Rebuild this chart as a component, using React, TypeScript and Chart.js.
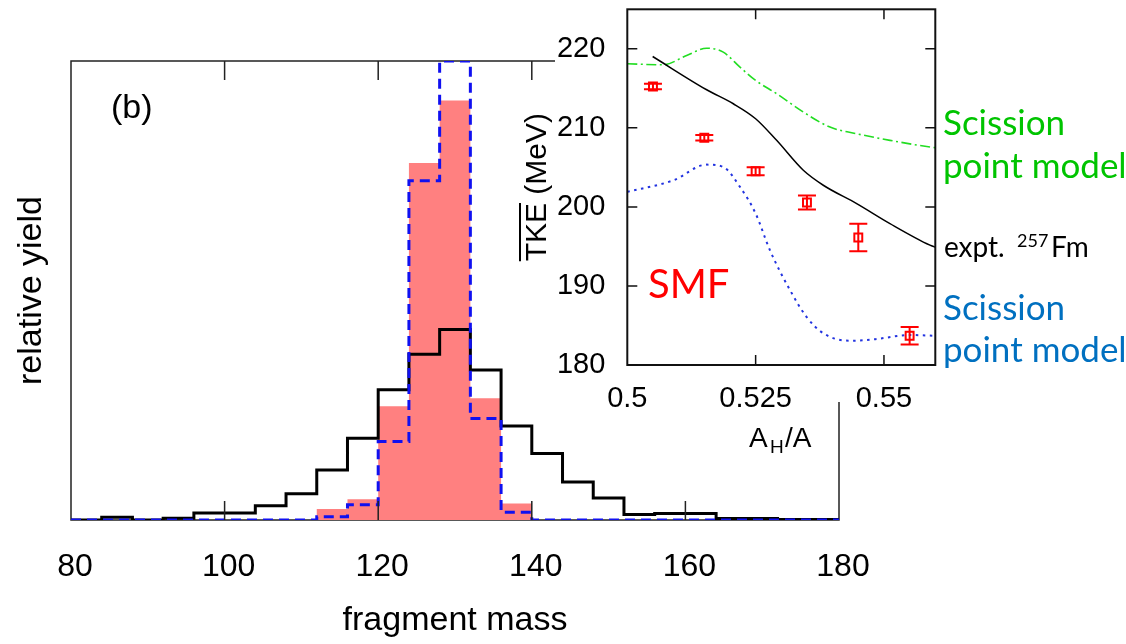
import React, { useEffect, useRef } from "react";
import { Chart, registerables } from "chart.js";

Chart.register(...registerables);

// ---------- Main histogram data (bin left edges, width 4) ----------
const massBinEdges = [80, 84, 88, 92, 96, 100, 104, 108, 112, 116, 120, 124, 128, 132, 136, 140, 144, 148, 152, 156, 160, 164, 168, 172, 176];
const massUpperEdge = 180;
const exptYield = [0, 0.06, 0, 0.04, 0.15, 0.15, 0.31, 0.57, 1.09, 1.78, 2.84, 3.61, 4.15, 3.27, 2.05, 1.45, 0.83, 0.48, 0.12, 0.14, 0.14, 0.03, 0.03, 0.01, 0.01];
const smfYield = [0, 0, 0, 0, 0, 0, 0, 0, 0.24, 0.45, 2.48, 7.78, 9.14, 2.65, 0.36, 0, 0, 0, 0, 0, 0, 0, 0, 0, 0];
const scissionYield = [0, 0, 0, 0, 0, 0, 0, 0, 0.07, 0.33, 1.71, 7.39, 10.0, 2.21, 0.17, 0, 0, 0, 0, 0, 0, 0, 0, 0, 0];
const massTicks = [100, 120, 140, 160];

// ---------- Inset data ----------
const exptTkeX = [0.50494, 0.51546, 0.52065, 0.525, 0.52909, 0.53429, 0.53818, 0.54468, 0.55117, 0.55896, 0.56];
const exptTkeY = [219.03, 214.82, 213.05, 211.16, 208.42, 204.63, 202.74, 200.42, 197.89, 195.16, 194.9];
const spmGreenX = [0.5, 0.50701, 0.51156, 0.51546, 0.5187, 0.52195, 0.525, 0.52909, 0.53429, 0.53948, 0.54468, 0.55117, 0.55896, 0.56];
const spmGreenY = [218.11, 217.98, 219.16, 220.08, 219.58, 217.68, 216.0, 214.32, 212.0, 210.1, 209.26, 208.42, 207.58, 207.5];
const spmBlueX = [0.5, 0.509, 0.51546, 0.5187, 0.52195, 0.525, 0.5278, 0.5317, 0.5349, 0.5382, 0.5434, 0.5479, 0.5551, 0.56];
const spmBlueY = [201.9, 203.37, 205.35, 205.05, 202.53, 199.16, 194.5, 189.47, 186.1, 184.0, 183.07, 183.24, 183.79, 183.7];
const smfX = [0.505, 0.515, 0.525, 0.535, 0.545, 0.555];
const smfTke = [215.24, 208.76, 204.51, 200.55, 196.13, 183.7];
const smfErr = [0.35, 0.35, 0.5, 0.88, 1.73, 1.12];
const insetYTicks = [180, 190, 200, 210, 220];
const insetXTicks = [0.525, 0.55];

const SANS = "'Liberation Sans', Arial, sans-serif";
const LABEL = "Lato, 'Open Sans', sans-serif";

const INSET_LEFT = 500;

function stepData(edges: number[], vals: number[], upper: number) {
  const pts = edges.map((m, i) => ({ x: m, y: vals[i] }));
  pts.push({ x: upper, y: vals[vals.length - 1] });
  return pts;
}

function xy(xs: number[], ys: number[]) {
  return xs.map((x, i) => ({ x, y: ys[i] }));
}

const mainFramePlugin = {
  id: "mainFrame",
  beforeDatasetsDraw(chart: any) {
    const { ctx, chartArea: a } = chart;
    ctx.save();
    ctx.strokeStyle = "#222";
    ctx.lineWidth = 1.5;
    ctx.strokeRect(a.left, a.top, a.right - a.left, a.bottom - a.top);
    ctx.restore();
  },
  afterDatasetsDraw(chart: any) {
    const { ctx, chartArea: a, scales } = chart;
    ctx.save();
    ctx.strokeStyle = "#222";
    ctx.lineWidth = 1.5;
    for (const m of massTicks) {
      const px = scales.x.getPixelForValue(m);
      ctx.beginPath();
      ctx.moveTo(px, a.top);
      ctx.lineTo(px, a.top + 19);
      ctx.moveTo(px, a.bottom);
      ctx.lineTo(px, a.bottom - 19);
      ctx.stroke();
    }
    ctx.fillStyle = "#000";
    ctx.font = `34px ${SANS}`;
    ctx.textBaseline = "alphabetic";
    ctx.textAlign = "left";
    ctx.fillText("(b)", 111, 118);
    ctx.restore();
  },
};

const insetPlugin = {
  id: "insetDecor",
  beforeDraw(chart: any) {
    const { ctx, width } = chart;
    ctx.save();
    ctx.fillStyle = "#fff";
    ctx.fillRect(555 - INSET_LEFT, 0, width, 402);
    ctx.restore();
  },
  afterDatasetsDraw(chart: any) {
    const { ctx, chartArea: a, scales } = chart;
    const xs = scales.x;
    const ys = scales.y;
    ctx.save();
    // error bars
    ctx.strokeStyle = "#ff0000";
    ctx.lineWidth = 2;
    smfX.forEach((xv, i) => {
      const px = xs.getPixelForValue(xv);
      const t = ys.getPixelForValue(smfTke[i] + smfErr[i]);
      const b = ys.getPixelForValue(smfTke[i] - smfErr[i]);
      ctx.beginPath();
      ctx.moveTo(px, t);
      ctx.lineTo(px, b);
      ctx.moveTo(px - 9, t);
      ctx.lineTo(px + 9, t);
      ctx.moveTo(px - 9, b);
      ctx.lineTo(px + 9, b);
      ctx.stroke();
    });
    // frame
    ctx.strokeStyle = "#111";
    ctx.lineWidth = 2;
    ctx.strokeRect(a.left, a.top, a.right - a.left, a.bottom - a.top);
    ctx.lineWidth = 1.5;
    ctx.beginPath();
    for (const v of insetYTicks) {
      const py = ys.getPixelForValue(v);
      ctx.moveTo(a.left, py);
      ctx.lineTo(a.left + 10, py);
      ctx.moveTo(a.right, py);
      ctx.lineTo(a.right - 10, py);
    }
    for (const v of insetXTicks) {
      const px = xs.getPixelForValue(v);
      ctx.moveTo(px, a.top);
      ctx.lineTo(px, a.top + 10);
      ctx.moveTo(px, a.bottom);
      ctx.lineTo(px, a.bottom - 10);
    }
    ctx.stroke();
    ctx.restore();
  },
  afterDraw(chart: any) {
    const { ctx, chartArea: a } = chart;
    ctx.save();
    ctx.textBaseline = "alphabetic";
    ctx.textAlign = "left";
    // TKE overline
    ctx.font = `30px ${SANS}`;
    const W = ctx.measureText("TKE (MeV)").width;
    const w1 = ctx.measureText("TKE").width;
    const cy = (a.top + a.bottom) / 2;
    const yb = cy + W / 2;
    ctx.strokeStyle = "#000";
    ctx.lineWidth = 2;
    ctx.beginPath();
    ctx.moveTo(20, yb);
    ctx.lineTo(20, yb - w1);
    ctx.stroke();
    // A_H/A
    ctx.fillStyle = "#000";
    ctx.font = `28px ${SANS}`;
    ctx.fillText("A", 749 - INSET_LEFT, 447);
    ctx.font = `19px ${SANS}`;
    ctx.fillText("H", 770 - INSET_LEFT, 453);
    ctx.font = `28px ${SANS}`;
    ctx.fillText("/A", 785 - INSET_LEFT, 447);
    // SMF
    ctx.fillStyle = "#ff0000";
    ctx.font = `40px ${LABEL}`;
    ctx.fillText("SMF", 648 - INSET_LEFT, 298);
    // right labels
    const lx = 943 - INSET_LEFT;
    ctx.fillStyle = "#00c400";
    ctx.font = `35px ${LABEL}`;
    ctx.fillText("Scission", lx, 135);
    ctx.fillText("point model", lx, 178);
    ctx.fillStyle = "#000";
    ctx.font = `28px ${LABEL}`;
    ctx.fillText("expt.", lx + 1, 257);
    ctx.font = `18px ${LABEL}`;
    ctx.fillText("257", 1017 - INSET_LEFT, 247);
    ctx.font = `28px ${LABEL}`;
    ctx.fillText("Fm", 1051 - INSET_LEFT, 257);
    ctx.fillStyle = "#0070c0";
    ctx.font = `35px ${LABEL}`;
    ctx.fillText("Scission", lx, 320);
    ctx.fillText("point model", lx, 362);
    ctx.restore();
  },
};

export default function App() {
  const mainRef = useRef<HTMLCanvasElement>(null);
  const insetRef = useRef<HTMLCanvasElement>(null);

  useEffect(() => {
    const main = new Chart(mainRef.current as HTMLCanvasElement, {
      type: "line",
      data: {
        datasets: [
          {
            label: "SMF",
            data: stepData(massBinEdges, smfYield, massUpperEdge),
            stepped: "before",
            borderWidth: 0,
            borderColor: "rgba(0,0,0,0)",
            backgroundColor: "#ff8080",
            fill: "origin",
            pointRadius: 0,
            order: 2,
          },
          {
            label: "expt",
            data: stepData(massBinEdges, exptYield, massUpperEdge),
            stepped: "before",
            borderColor: "#000",
            borderWidth: 3,
            fill: false,
            pointRadius: 0,
            order: 1,
          },
          {
            label: "scission",
            data: stepData(massBinEdges, scissionYield, massUpperEdge),
            stepped: "before",
            borderColor: "#1010f0",
            borderWidth: 3,
            borderDash: [10, 6],
            fill: false,
            pointRadius: 0,
            order: 0,
          },
        ],
      } as any,
      options: {
        animation: false,
        responsive: false,
        maintainAspectRatio: false,
        layout: { padding: { left: 0, top: 61, right: 1126 - 839, bottom: 0 } },
        plugins: { legend: { display: false }, tooltip: { enabled: false } },
        scales: {
          x: {
            type: "linear",
            min: 80,
            max: 180,
            ticks: { stepSize: 20, color: "#000", font: { family: SANS, size: 32 }, padding: 28, maxRotation: 0, labelOffset: 4 },
            grid: { display: false, drawTicks: false },
            border: { display: false },
            title: { display: true, text: "fragment mass", color: "#000", font: { family: SANS, size: 34 }, padding: { top: 0, bottom: 3 } },
            afterFit: (s: any) => {
              s.height = 124;
              s.paddingLeft = 0;
              s.paddingRight = 0;
            },
          },
          y: {
            type: "linear",
            min: 0,
            max: 10,
            ticks: { display: false },
            grid: { display: false, drawTicks: false },
            border: { display: false },
            title: { display: true, text: "relative yield", color: "#000", font: { family: SANS, size: 34 }, padding: { top: 11, bottom: 0 } },
            afterFit: (s: any) => {
              s.width = 71;
              s.paddingTop = 0;
              s.paddingBottom = 0;
            },
          },
        },
      } as any,
      plugins: [mainFramePlugin],
    });

    const inset = new Chart(insetRef.current as HTMLCanvasElement, {
      type: "line",
      data: {
        datasets: [
          {
            label: "SMF",
            data: xy(smfX, smfTke),
            showLine: false,
            pointStyle: "rect",
            pointRadius: 5.6,
            borderColor: "#ff0000",
            borderWidth: 2,
            backgroundColor: "rgba(0,0,0,0)",
            order: 0,
          },
          {
            label: "expt",
            data: xy(exptTkeX, exptTkeY),
            borderColor: "#000",
            borderWidth: 1.5,
            pointRadius: 0,
            cubicInterpolationMode: "monotone",
            fill: false,
            order: 1,
          },
          {
            label: "spm green",
            data: xy(spmGreenX, spmGreenY),
            borderColor: "#22dd22",
            borderWidth: 1.6,
            borderDash: [10, 3.5, 2, 3.5],
            pointRadius: 0,
            cubicInterpolationMode: "monotone",
            fill: false,
            order: 2,
          },
          {
            label: "spm blue",
            data: xy(spmBlueX, spmBlueY),
            borderColor: "#2233e0",
            borderWidth: 2,
            borderDash: [2.5, 4.5],
            pointRadius: 0,
            cubicInterpolationMode: "monotone",
            fill: false,
            order: 3,
          },
        ],
      } as any,
      options: {
        animation: false,
        responsive: false,
        maintainAspectRatio: false,
        layout: { padding: { left: 0, top: 9.3, right: 626 - 435.3, bottom: 0 } },
        plugins: { legend: { display: false }, tooltip: { enabled: false } },
        scales: {
          x: {
            type: "linear",
            min: 0.5,
            max: 0.56,
            ticks: {
              stepSize: 0.025,
              includeBounds: false,
              color: "#000",
              font: { family: SANS, size: 29 },
              padding: 17,
              maxRotation: 0,
              autoSkip: false,
              callback: (v: any) => {
                const n = Number(v);
                const k = Math.round(n / 0.025);
                if (Math.abs(n - k * 0.025) > 1e-6) return "";
                return String(Number(n.toFixed(3)));
              },
            },
            grid: { display: false, drawTicks: false },
            border: { display: false },
            afterFit: (s: any) => {
              s.height = 95;
              s.paddingLeft = 0;
              s.paddingRight = 0;
            },
          },
          y: {
            type: "linear",
            min: 180,
            max: 225,
            ticks: {
              stepSize: 10,
              includeBounds: false,
              color: "#000",
              font: { family: SANS, size: 29 },
              padding: 22,
              callback: (v: any) => (Number(v) % 10 === 0 ? String(v) : ""),
            },
            grid: { display: false, drawTicks: false },
            border: { display: false },
            title: { display: true, text: "TKE (MeV)", color: "#000", font: { family: SANS, size: 30 }, padding: { top: 19.4, bottom: 0 } },
            afterFit: (s: any) => {
              s.width = 127.3;
              s.paddingTop = 0;
              s.paddingBottom = 0;
            },
          },
        },
      } as any,
      plugins: [insetPlugin],
    });

    return () => {
      main.destroy();
      inset.destroy();
    };
  }, []);

  return (
    <div style={{ position: "absolute", left: 0, top: 0, width: 1126, height: 644, background: "#fff", overflow: "hidden" }}>
      <canvas ref={mainRef} width={1126} height={644} style={{ position: "absolute", left: 0, top: 0 }} />
      <canvas ref={insetRef} width={626} height={460} style={{ position: "absolute", left: INSET_LEFT, top: 0 }} />
    </div>
  );
}
